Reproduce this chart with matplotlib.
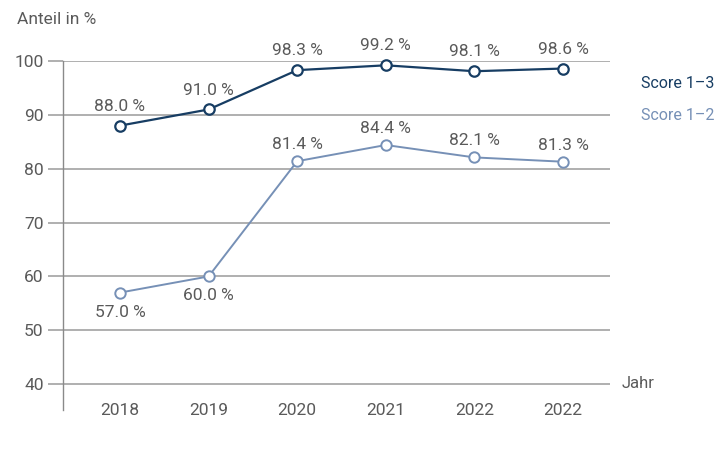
import matplotlib.pyplot as plt

# data
years = ['2018', '2019', '2020', '2021', '2022', '2022']
score_1_3 = [88.0, 91.0, 98.3, 99.2, 98.1, 98.6]
score_1_2 = [57.0, 60.0, 81.4, 84.4, 82.1, 81.3]
y_ticks = [40, 50, 60, 70, 80, 90, 100]

dark = '#173d63'
light = '#7690b6'
grey_text = '#5a5a5a'
grid_col = '#9a9a9a'

plt.rcParams['font.family'] = ['Roboto', 'DejaVu Sans']

fig = plt.figure(figsize=(7.28, 4.68), dpi=100)
ax = fig.add_axes([63 / 728, 1 - 410 / 468, (610 - 63) / 728, (410 - 61) / 468])

x = list(range(len(years)))
ax.set_xlim(-0.643, 5.53)
ax.set_ylim(35.2, 100)

for v in y_ticks:
    ax.axhline(v, color=grid_col, lw=1.1, zorder=1)

ax.plot(x, score_1_3, color=dark, lw=1.6, marker='o', ms=7.5, mfc='white',
        mec=dark, mew=1.6, zorder=3, clip_on=False)
ax.plot(x, score_1_2, color=light, lw=1.4, marker='o', ms=7.5, mfc='white',
        mec=light, mew=1.4, zorder=3, clip_on=False)

# value labels
for i, v in enumerate(score_1_3):
    ax.annotate(f'{v:.1f} %', (i, v), xytext=(0, 14), textcoords='offset points',
                ha='center', va='center', fontsize=12.5, color=grey_text)
for i, v in enumerate(score_1_2):
    off = -14 if i < 2 else 12
    ax.annotate(f'{v:.1f} %', (i, v), xytext=(0, off), textcoords='offset points',
                ha='center', va='center', fontsize=12.5, color=grey_text)

ax.set_xticks(x)
ax.set_xticklabels(years)
ax.set_yticks(y_ticks)
ax.tick_params(axis='x', length=0, pad=-5, labelsize=12.5, labelcolor=grey_text)
ax.tick_params(axis='y', length=11, width=1.1, color=grid_col, pad=3,
               labelsize=12.5, labelcolor=grey_text)

for s in ['top', 'right', 'bottom']:
    ax.spines[s].set_visible(False)
ax.spines['left'].set_color('#8a8a8a')
ax.spines['left'].set_linewidth(1.0)

fig.text(17 / 728, 1 - 20 / 468, 'Anteil in %', fontsize=12.5, color=grey_text,
         ha='left', va='center')
fig.text(622 / 728, 1 - 383 / 468, 'Jahr', fontsize=12, color=grey_text,
         ha='left', va='center')
fig.text(641 / 728, 1 - 84 / 468, 'Score 1–3', fontsize=11.5, color=dark,
         ha='left', va='center')
fig.text(641 / 728, 1 - 115 / 468, 'Score 1–2', fontsize=11.5, color=light,
         ha='left', va='center')

fig.savefig('out.png', dpi=100)
